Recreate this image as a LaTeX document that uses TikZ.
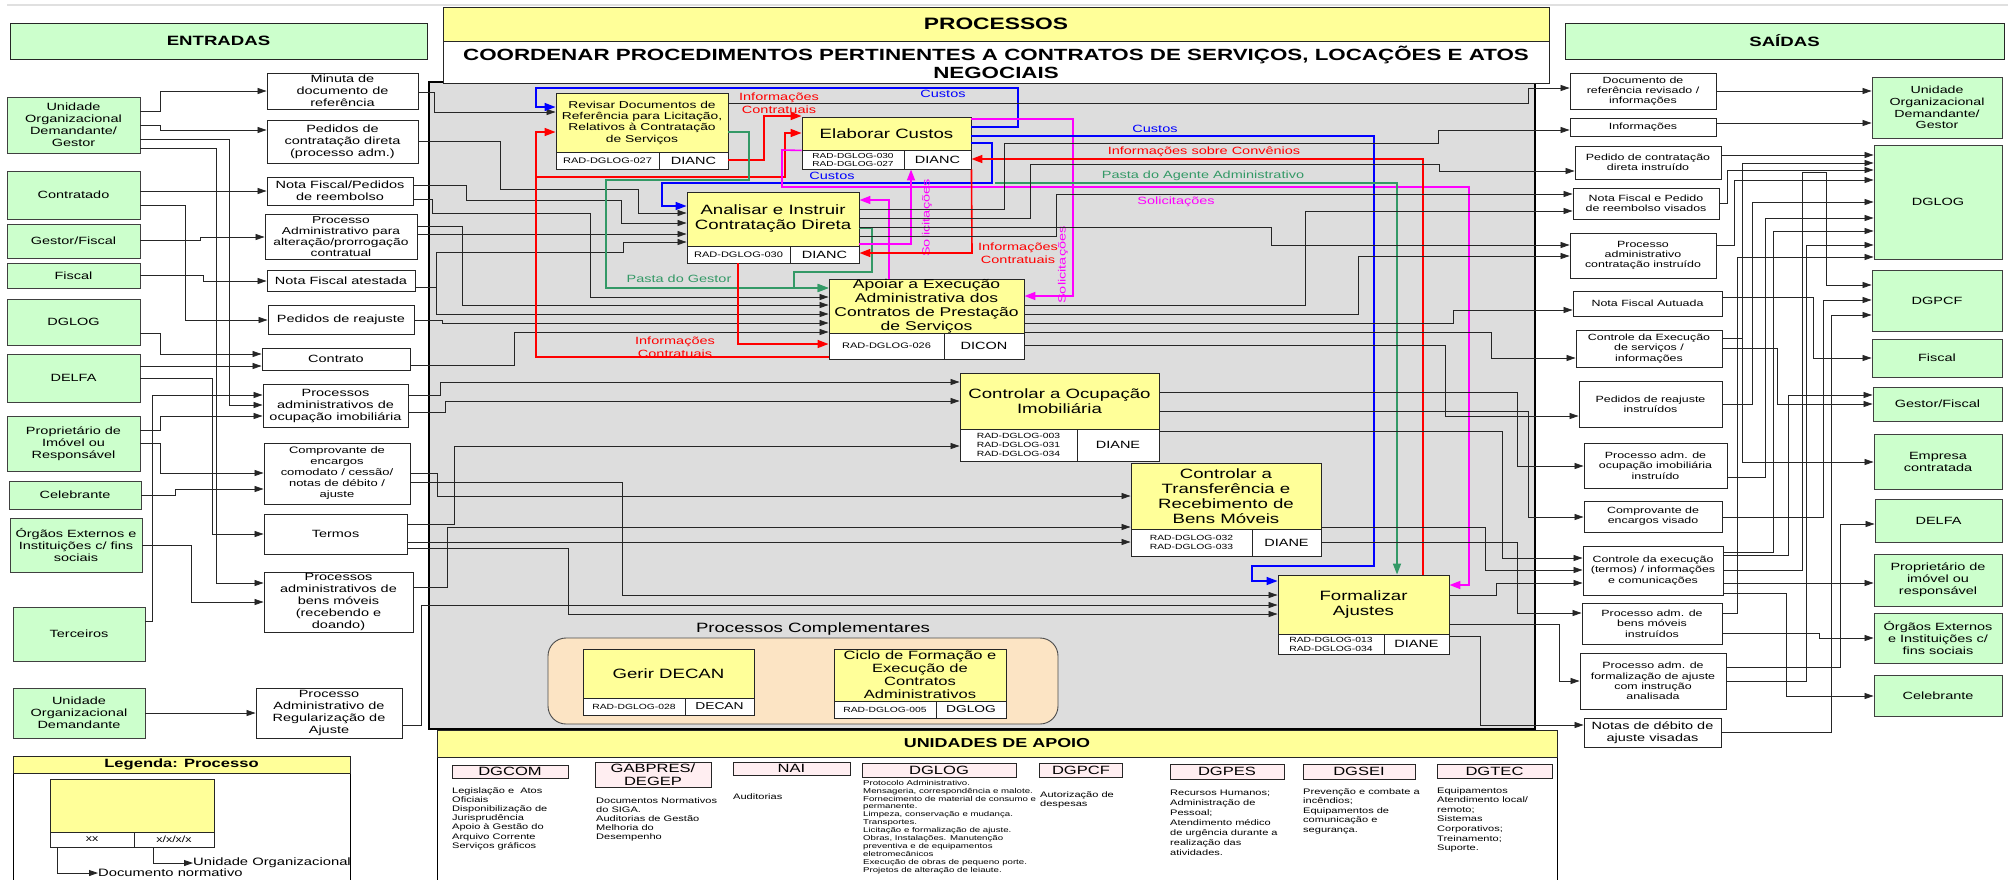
\documentclass[tikz,border=0pt]{standalone}
\usepackage{fontspec}
\setmainfont{Liberation Sans}[FakeStretch=1.38]
\usetikzlibrary{arrows.meta}

\definecolor{entgreen}{HTML}{CCFFCC}
\definecolor{procyellow}{HTML}{FFFF99}
\definecolor{areagray}{HTML}{DDDDDD}
\definecolor{complorange}{HTML}{FCE4C4}
\definecolor{apoiopink}{HTML}{FFEEF1}
\definecolor{fgreen}{HTML}{339966}
\definecolor{fred}{HTML}{FF0000}
\definecolor{fblue}{HTML}{0000FF}
\definecolor{fmag}{HTML}{FF00FF}

\tikzset{
  ent/.style={draw=black!75, fill=entgreen, line width=0.9pt, align=center, inner sep=0pt, font=\fontsize{10.5}{12}\selectfont},
  doc/.style={draw=black!85, fill=white, line width=0.9pt, align=center, inner sep=0pt, font=\fontsize{10.5}{12}\selectfont},
  odoc/.style={doc, font=\fontsize{9}{10.3}\selectfont},
  proc/.style={draw=black!85, fill=procyellow, line width=0.9pt, align=center, inner sep=0pt, font=\fontsize{13.5}{15}\selectfont},
  code/.style={draw=black!85, fill=white, line width=0.9pt, align=center, inner sep=0pt, font=\fontsize{8}{9}\selectfont},
  unitc/.style={code, font=\fontsize{10.5}{12}\selectfont},
  con/.style={draw=black!85, line width=0.8pt, -{Triangle[length=9pt,width=6pt]}},
  fcon/.style={line width=1.6pt, -{Triangle[length=11pt,width=8pt]}},
  lbl/.style={font=\fontsize{10.5}{12.5}\selectfont, inner sep=0pt, align=center},
  head/.style={draw=black!85, line width=0.9pt, inner sep=0pt, font=\fontsize{13.5}{15}\selectfont\bfseries},
  apoio/.style={draw=black!85, fill=apoiopink, line width=0.9pt, inner sep=0pt, align=center, font=\fontsize{12}{12.5}\selectfont},
  apoiotxt/.style={anchor=north west, align=left, inner sep=0pt, font=\fontsize{8}{9.2}\selectfont},
}

\begin{document}
\begin{tikzpicture}[x=1pt,y=-1pt]
\useasboundingbox (0,0) rectangle (2015,879);
\fill[white] (0,0) rectangle (2015,879);
\draw[black!12, line width=2pt] (7,5) -- (2008,5);

% headers
\node[head, fill=entgreen, minimum width=417pt, minimum height=36pt] (hEnt) at (218.5,41) {ENTRADAS};
\node[head, fill=entgreen, minimum width=439pt, minimum height=36pt] (hSai) at (1784.5,41) {SAÍDAS};

% process area
\fill[areagray] (429,82) rectangle (1535,729);
\draw[line width=1.5pt] (429,82) rectangle (1535,729);
\node[head, fill=procyellow, minimum width=1106pt, minimum height=34pt, font=\fontsize{16.5}{18}\selectfont\bfseries] (hProc) at (996,24) {PROCESSOS};
\node[head, fill=white, minimum width=1106pt, minimum height=42pt, align=center, font=\fontsize{16.2}{18}\selectfont\bfseries] (hTit) at (996,62) {COORDENAR PROCEDIMENTOS PERTINENTES A CONTRATOS DE SERVIÇOS, LOCAÇÕES E ATOS\\NEGOCIAIS};

% input entities
\node[ent, minimum width=133pt, minimum height=56pt] (eUod) at (73.5,125) {Unidade\\Organizacional\\Demandante/\\Gestor};
\node[ent, minimum width=133pt, minimum height=48pt] (eCont) at (73.5,195) {Contratado};
\node[ent, minimum width=133pt, minimum height=34pt] (eGF) at (73.5,241) {Gestor/Fiscal};
\node[ent, minimum width=133pt, minimum height=25pt] (eFis) at (73.5,275.5) {Fiscal};
\node[ent, minimum width=133pt, minimum height=46pt] (eDglog) at (73.5,322) {DGLOG};
\node[ent, minimum width=133pt, minimum height=48pt] (eDelfa) at (73.5,378) {DELFA};
\node[ent, minimum width=133pt, minimum height=55pt] (eProp) at (73.5,443.5) {Proprietário de\\Imóvel ou\\Responsável};
\node[ent, minimum width=132pt, minimum height=28pt] (eCeleb) at (75,495) {Celebrante};
\node[ent, minimum width=132pt, minimum height=54pt] (eOrg) at (76,545) {Órgãos Externos e\\Instituições c/ fins\\sociais};
\node[ent, minimum width=132pt, minimum height=54pt] (eTerc) at (79,634) {Terceiros};
\node[ent, minimum width=132pt, minimum height=50pt] (eUod2) at (79,713) {Unidade\\Organizacional\\Demandante};

% input documents
\node[doc, minimum width=151pt, minimum height=36pt] (dMin) at (342.5,91) {Minuta de\\documento de\\referência};
\node[doc, minimum width=151pt, minimum height=43pt] (dPed) at (342.5,141.5) {Pedidos de\\contratação direta\\(processo adm.)};
\node[doc, minimum width=146pt, minimum height=28pt] (dNfp) at (340,191) {Nota Fiscal/Pedidos\\de reembolso};
\node[doc, minimum width=152pt, minimum height=45pt, font=\fontsize{10}{11}\selectfont] (dAlt) at (341,236.5) {Processo\\Administrativo para\\alteração/prorrogação\\contratual};
\node[doc, minimum width=148pt, minimum height=21pt] (dNfa) at (341,280.5) {Nota Fiscal atestada};
\node[doc, minimum width=146pt, minimum height=29pt] (dReaj) at (341,319.5) {Pedidos de reajuste};
\node[doc, minimum width=148pt, minimum height=22pt] (dContr) at (336,359) {Contrato};
\node[doc, minimum width=145pt, minimum height=43pt] (dOcu) at (335.5,405.5) {Processos\\administrativos de\\ocupação imobiliária};
\node[doc, minimum width=146pt, minimum height=61pt, font=\fontsize{9.4}{11}\selectfont] (dComp) at (337,473.5) {Comprovante de\\encargos\\comodato / cessão/\\notas de débito /\\ajuste};
\node[doc, minimum width=143pt, minimum height=40pt] (dTerm) at (335.5,534) {Termos};
\node[doc, minimum width=149pt, minimum height=60pt] (dBens) at (338.5,602) {Processos\\administrativos de\\bens móveis\\(recebendo e\\doando)};
\node[doc, minimum width=146pt, minimum height=50pt] (dReg) at (329,713) {Processo\\Administrativo de\\Regularização de\\Ajuste};

% processes
\node[proc, minimum width=172pt, minimum height=59pt, font=\fontsize{10}{11.3}\selectfont] (rev) at (642,122.5) {Revisar Documentos de\\Referência para Licitação,\\Relativos à Contratação\\de Serviços};
\node[code, minimum width=103pt, minimum height=17pt] (revc) at (607.5,160.5) {RAD-DGLOG-027};
\node[unitc, minimum width=69pt, minimum height=17pt] (revu) at (693.5,160.5) {DIANC};

\node[proc, minimum width=169pt, minimum height=33pt] (ela) at (886.5,133.5) {Elaborar Custos};
\node[code, minimum width=102pt, minimum height=19pt, font=\fontsize{7.3}{8}\selectfont] (elac) at (853,159.5) {RAD-DGLOG-030\\RAD-DGLOG-027};
\node[unitc, minimum width=67pt, minimum height=19pt] (elau) at (937.5,159.5) {DIANC};

\node[proc, minimum width=172pt, minimum height=54pt] (ana) at (773,219) {Analisar e Instruir\\Contratação Direta};
\node[code, minimum width=103pt, minimum height=17pt] (anac) at (738.5,254.5) {RAD-DGLOG-030};
\node[unitc, minimum width=69pt, minimum height=17pt] (anau) at (824.5,254.5) {DIANC};

\node[proc, minimum width=195pt, minimum height=54pt, font=\fontsize{12.7}{14}\selectfont] (apo) at (926.5,306) {Apoiar a Execução\\Administrativa dos\\Contratos de Prestação\\de Serviços};
\node[code, minimum width=115pt, minimum height=26pt] (apoc) at (886.5,346) {RAD-DGLOG-026};
\node[unitc, minimum width=80pt, minimum height=26pt] (apou) at (984,346) {DICON};

\node[proc, minimum width=199pt, minimum height=56pt] (ocu) at (1059.5,401) {Controlar a Ocupação\\Imobiliária};
\node[code, minimum width=117pt, minimum height=32pt, font=\fontsize{7.5}{9}\selectfont] (ocuc) at (1018.5,445) {RAD-DGLOG-003\\RAD-DGLOG-031\\RAD-DGLOG-034};
\node[unitc, minimum width=82pt, minimum height=32pt] (ocuu) at (1118,445) {DIANE};

\node[proc, minimum width=190pt, minimum height=66pt] (tra) at (1226,496) {Controlar a\\Transferência e\\Recebimento de\\Bens Móveis};
\node[code, minimum width=121pt, minimum height=27pt, font=\fontsize{7.5}{9}\selectfont] (trac) at (1191.5,542.5) {RAD-DGLOG-032\\RAD-DGLOG-033};
\node[unitc, minimum width=69pt, minimum height=27pt] (trau) at (1286.5,542.5) {DIANE};

\node[proc, minimum width=171pt, minimum height=59pt] (for) at (1363.5,604.5) {Formalizar\\Ajustes};
\node[code, minimum width=106pt, minimum height=20pt, font=\fontsize{7.5}{9}\selectfont] (forc) at (1331,644) {RAD-DGLOG-013\\RAD-DGLOG-034};
\node[unitc, minimum width=65pt, minimum height=20pt] (foru) at (1416.5,644) {DIANE};

% complementary processes
\node[lbl, font=\fontsize{13.5}{15}\selectfont] (lCompl) at (813,629) {Processos Complementares};
\draw[rounded corners=18pt, fill=complorange, draw=black!70, line width=0.9pt] (548,638) rectangle (1058,724);
\node[proc, minimum width=171pt, minimum height=49pt] (dec) at (668.5,673.5) {Gerir DECAN};
\node[code, minimum width=102pt, minimum height=17pt, font=\fontsize{7.5}{9}\selectfont] (decc) at (634,706.5) {RAD-DGLOG-028};
\node[unitc, minimum width=69pt, minimum height=17pt, font=\fontsize{10}{11}\selectfont] (decu) at (719.5,706.5) {DECAN};
\node[proc, minimum width=172pt, minimum height=52pt, font=\fontsize{12}{13}\selectfont] (cic) at (920,675) {Ciclo de Formação e\\Execução de\\Contratos\\Administrativos};
\node[code, minimum width=102pt, minimum height=17pt, font=\fontsize{7.5}{9}\selectfont] (cicc) at (885,709.5) {RAD-DGLOG-005};
\node[unitc, minimum width=70pt, minimum height=17pt, font=\fontsize{10}{11}\selectfont] (cicu) at (971,709.5) {DGLOG};

% output documents
\node[odoc, minimum width=146pt, minimum height=36pt] (oRef) at (1643,91) {Documento de\\referência revisado /\\informações};
\node[odoc, minimum width=146pt, minimum height=18pt] (oInf) at (1643,127) {Informações};
\node[odoc, minimum width=146pt, minimum height=33pt] (oPed) at (1648,162.5) {Pedido de contratação\\direta instruído};
\node[odoc, minimum width=146pt, minimum height=31pt] (oNf) at (1646,203.5) {Nota Fiscal e Pedido\\de reembolso visados};
\node[odoc, minimum width=146pt, minimum height=45pt] (oProc) at (1643,255.5) {Processo\\administrativo\\contratação instruído};
\node[odoc, minimum width=149pt, minimum height=25pt] (oNfa) at (1647.5,303.5) {Nota Fiscal Autuada};
\node[odoc, minimum width=146pt, minimum height=37pt] (oCtl) at (1649,348.5) {Controle da Execução\\de serviços /\\informações};
\node[odoc, minimum width=143pt, minimum height=46pt] (oReaj) at (1650.5,404) {Pedidos de reajuste\\instruídos};
\node[odoc, minimum width=143pt, minimum height=45pt] (oOcu) at (1655.5,465.5) {Processo adm. de\\ocupação imobiliária\\instruído};
\node[odoc, minimum width=138pt, minimum height=31pt] (oComp) at (1653,516.5) {Comprovante de\\encargos visado};
\node[odoc, minimum width=140pt, minimum height=49pt] (oTerm) at (1653,570.5) {Controle da execução\\(termos) / informações\\e comunicações};
\node[odoc, minimum width=140pt, minimum height=41pt] (oBens) at (1652,623.5) {Processo adm. de\\bens móveis\\instruídos};
\node[odoc, minimum width=146pt, minimum height=56pt] (oForm) at (1653,681) {Processo adm. de\\formalização de ajuste\\com instrução\\analisada};
\node[doc, minimum width=137pt, minimum height=29pt] (oNot) at (1652.5,732.5) {Notas de débito de\\ajuste visadas};

% output entities
\node[ent, minimum width=130pt, minimum height=61pt, font=\fontsize{10.3}{11.8}\selectfont] (sUod) at (1937,107.5) {Unidade\\Organizacional\\Demandante/\\Gestor};
\node[ent, minimum width=128pt, minimum height=114pt] (sDglog) at (1938,202) {DGLOG};
\node[ent, minimum width=130pt, minimum height=61pt] (sDgpcf) at (1937,300.5) {DGPCF};
\node[ent, minimum width=130pt, minimum height=38pt] (sFis) at (1937,358) {Fiscal};
\node[ent, minimum width=129pt, minimum height=34pt] (sGF) at (1937.5,404) {Gestor/Fiscal};
\node[ent, minimum width=128pt, minimum height=55pt] (sEmp) at (1938,461.5) {Empresa\\contratada};
\node[ent, minimum width=127pt, minimum height=43pt] (sDelfa) at (1938.5,520.5) {DELFA};
\node[ent, minimum width=128pt, minimum height=52pt] (sProp) at (1938,580) {Proprietário de\\imóvel ou\\responsável};
\node[ent, minimum width=128pt, minimum height=50pt] (sOrg) at (1938,638) {Órgãos Externos\\e Instituições c/\\fins sociais};
\node[ent, minimum width=128pt, minimum height=41pt] (sCeleb) at (1938,695.5) {Celebrante};

% entities to input documents
\draw[con] (eUod.east |- 0,111) -- (160,111) -- (160,91) -- (dMin.west |- 0,91);
\draw[con] (eUod.east |- 0,125) -- (160,125) -- (160,130) -- (dPed.west |- 0,130);
\draw[con] (eUod.east |- 0,139) -- (229,139) -- (229,405) -- (dOcu.west |- 0,405);
\draw[con] (eUod.east |- 0,148) -- (216,148) -- (216,583) -- (dBens.west |- 0,583);
\draw[con] (eCont.east |- 0,191) -- (dNfp.west |- 0,191);
\draw[con] (eCont.east |- 0,205) -- (185,205) -- (185,320) -- (dReaj.west |- 0,320);
\draw[con] (eGF.east |- 0,240) -- (200,240) -- (200,237) -- (dAlt.west |- 0,237);
\draw[con] (eFis.east |- 0,275) -- (203,275) -- (203,281) -- (dNfa.west |- 0,281);
\draw[con] (eDglog.east |- 0,333) -- (160,333) -- (160,354) -- (dContr.west |- 0,354);
\draw[con] (eDelfa.east |- 0,366) -- (dContr.west |- 0,366);
\draw[con] (eDelfa.east |- 0,378) -- (212,378) -- (212,534) -- (dTerm.west |- 0,534);
\draw[con] (eTerc.east |- 0,621) -- (152,621) -- (152,395) -- (dOcu.west |- 0,395);
\draw[con] (eProp.east |- 0,430) -- (160,430) -- (160,416) -- (dOcu.west |- 0,416);
\draw[con] (eProp.east |- 0,443) -- (160,443) -- (160,473) -- (dComp.west |- 0,473);
\draw[con] (eCeleb.east |- 0,495) -- (175,495) -- (175,489) -- (dComp.west |- 0,489);
\draw[con] (eOrg.east |- 0,545) -- (191,545) -- (191,602) -- (dBens.west |- 0,602);
\draw[con] (eUod2) -- (dReg);

% input documents to processes
\draw[con] (dMin.east |- 0,92) -- (434,92) -- (434,112) -- (rev.west |- 0,112);
\draw[con] (dPed.east |- 0,141) -- (500,141) -- (500,189) -- (638,189) -- (638,213) -- (ana.west |- 0,213);
\draw[con] (dNfp.east |- 0,185) -- (466,185) -- (466,200) -- (621,200) -- (621,223) -- (ana.west |- 0,223);
\draw[con] (dAlt.east |- 0,234) -- (ana.west |- 0,234);
\draw[con] (dNfa.east |- 0,287) -- (436,287) -- (436,252) -- (623,252) -- (623,242) -- (ana.west |- 0,242);
\draw[con] (dNfp.east |- 0,199) -- (432,199) -- (432,213) -- (590,213) -- (590,297) -- (apo.west |- 0,297);
\draw[con] (dAlt.east |- 0,226) -- (462,226) -- (462,305) -- (apo.west |- 0,305);
\draw[con] (dNfa.east |- 0,287) -- (436,287) -- (436,314) -- (apo.west |- 0,314);
\draw[con] (dReaj.east |- 0,320) -- (442,320) -- (442,323) -- (apo.west |- 0,323);
\draw[con] (dContr.east |- 0,365) -- (514,365) -- (514,332) -- (apo.west |- 0,332);
\draw[con] (dOcu.east |- 0,395) -- (440,395) -- (440,382) -- (ocu.west |- 0,382);
\draw[con] (dOcu.east |- 0,412) -- (445,412) -- (445,401) -- (ocu.west |- 0,401);
\draw[con] (dTerm.east |- 0,524) -- (454,524) -- (454,446) -- (ocu.west |- 0,446);
\draw[con] (dComp.east |- 0,473) -- (437,473) -- (437,496) -- (tra.west |- 0,496);
\draw[con] (dComp.east |- 0,482) -- (622,482) -- (622,595) -- (for.west |- 0,595);
\draw[con] (dBens.east |- 0,587) -- (447,587) -- (447,527) -- (tra.west |- 0,527);
\draw[con] (dTerm.east |- 0,542) -- (trac.west |- 0,542);
\draw[con] (dTerm.east |- 0,548) -- (568,548) -- (568,614) -- (for.west |- 0,614);
\draw[con] (dReg.east |- 0,725) -- (421,725) -- (421,605) -- (for.west |- 0,605);

% flows between processes
\draw[fcon, fblue] (ela.east |- 0,127) -- (1018,127) -- (1018,88) -- (536,88) -- (536,107) -- (rev.west |- 0,107);
\node[lbl, text=fblue] (lCus1) at (943,94) {Custos};
\draw[fcon, fred] (apoc.west |- 0,357) -- (536,357) -- (536,132) -- (rev.west |- 0,132);
\draw[fcon, fred] (apoc.west |- 0,357) -- (536,357) -- (536,177) -- (785,177) -- (785,133) -- (ela.west |- 0,133);
\node[lbl, text=fred] (lInf3) at (675,347) {Informações\\Contratuais};
\draw[fcon, fred] (revu.east |- 0,160) -- (764,160) -- (764,116) -- (ela.west |- 0,116);
\node[lbl, text=fred] (lInf1) at (779,103) {Informações\\Contratuais};
\draw[fcon, fgreen] (rev.east |- 0,132) -- (749,132) -- (749,180) -- (606,180) -- (606,288) -- (apo.west |- 0,288);
\draw[fcon, fgreen] (ana.east |- 0,228) -- (872,228) -- (872,272) -- (794,272) -- (794,288) -- (apo.west |- 0,288);
\node[lbl, text=fgreen] (lPasta) at (679,279) {Pasta do Gestor};
\draw[fcon, fblue] (ela.east |- 0,143) -- (992,143) -- (992,183) -- (662,183) -- (662,206) -- (ana.west |- 0,206);
\node[lbl, text=fblue] (lCus2) at (832,176) {Custos};
\draw[fcon, fmag] (ela.south west) -- (782,150) -- (782,187) -- (1469,187) -- (1469,585) -- (for.east |- 0,585);
\node[lbl, text=fmag] (lSol1) at (1176,202) {Solicitações};
\draw[fcon, fmag] (ana.east |- 0,244) -- (911,244) -- (elau.south -| 911,0);
\node[lbl, text=fmag, rotate=90] (lSol2) at (927,218) {Solicitações};
\draw[fcon, fmag] (apo.north -| 889,0) -- (889,200) -- (ana.east |- 0,200);
\draw[fcon, fmag] (ela.east |- 0,119) -- (1073,119) -- (1073,296) -- (apo.east |- 0,296);
\node[lbl, text=fmag, rotate=90] (lSol3) at (1063,265) {Solicitações};
\draw[fcon, fred] (for.north -| 1423,0) -- (1423,159) -- (elau.east |- 0,159);
\node[lbl, text=fred] (lConv) at (1204,152) {Informações sobre Convênios};
\draw[fcon, fred] (elau.south east) -- (972,253) -- (anau.east |- 0,253);
\node[lbl, text=fred] (lInf2) at (1018,253) {Informações\\Contratuais};
\draw[fcon, fred] (anac.south -| 738,0) -- (738,344) -- (apoc.west |- 0,344);
\draw[fcon, fblue] (ela.east |- 0,136) -- (1374,136) -- (1374,566) -- (1252,566) -- (1252,581) -- (for.west |- 0,581);
\node[lbl, text=fblue] (lCus3) at (1155,129) {Custos};
\coordinate (pagA) at (995,183);
\draw[fcon, fgreen] (pagA) -- (1397,183) -- (for.north -| 1397,0);
\node[lbl, text=fgreen] (lAgente) at (1203,176) {Pasta do Agente Administrativo};

% processes to output documents
\draw[con] (rev.east |- 0,103) -- (1528,103) -- (1528,88) -- (oRef.west |- 0,88);
\draw[con] (ana.east |- 0,209) -- (1004,209) -- (1004,143) -- (1438,143) -- (1438,130) -- (oInf.west |- 0,130);
\draw[con] (ana.east |- 0,218) -- (1030,218) -- (1030,164) -- (1439,164) -- (1439,171) -- (oPed.west |- 0,171);
\draw[con] (ana.east |- 0,236) -- (1056,236) -- (1056,194) -- (oNf.west |- 0,194);
\draw[con] (ana.east |- 0,227) -- (1271,227) -- (1271,245) -- (oProc.west |- 0,245);
\draw[con] (apo.east |- 0,314) -- (1358,314) -- (1358,256) -- (oProc.west |- 0,256);
\draw[con] (apo.east |- 0,305) -- (1305,305) -- (1305,211) -- (oNf.west |- 0,211);
\draw[con] (apo.east |- 0,323) -- (1453,323) -- (1453,310) -- (oNfa.west |- 0,310);
\draw[con] (apo.east |- 0,332) -- (1491,332) -- (1491,358) -- (oCtl.west |- 0,358);
\draw[con] (apou.east |- 0,345) -- (1445,345) -- (1445,416) -- (oReaj.west |- 0,416);
\draw[con] (ocu.east |- 0,392) -- (1517,392) -- (1517,466) -- (oOcu.west |- 0,466);
\draw[con] (ocu.east |- 0,411) -- (1528,411) -- (1528,517) -- (oComp.west |- 0,517);
\draw[con] (ocuu.east |- 0,431) -- (1502,431) -- (1502,558) -- (oTerm.west |- 0,558);
\draw[con] (tra.east |- 0,527) -- (1485,527) -- (1485,570) -- (oTerm.west |- 0,570);
\draw[con] (trau.east |- 0,542) -- (1517,542) -- (1517,613) -- (oBens.west |- 0,613);
\draw[con] (for.east |- 0,595) -- (1496,595) -- (1496,583) -- (oTerm.west |- 0,583);
\draw[con] (for.east |- 0,624) -- (1559,624) -- (1559,681) -- (oForm.west |- 0,681);
\draw[con] (foru.east |- 0,636) -- (1480,636) -- (1480,725) -- (oNot.west |- 0,725);

% output documents to entities
\draw[con] (oRef.east |- 0,91) -- (sUod.west |- 0,91);
\draw[con] (oInf.east |- 0,123) -- (sUod.west |- 0,123);
\draw[con] (oPed.east |- 0,155) -- (sDglog.west |- 0,155);
\draw[con] (oNf.east |- 0,203) -- (1727,203) -- (1727,170) -- (sDglog.west |- 0,170);
\draw[con] (oProc.east |- 0,245) -- (1734,245) -- (1734,180) -- (sDglog.west |- 0,180);
\draw[con] (oCtl.east |- 0,338) -- (1742,338) -- (1742,163) -- (sDglog.west |- 0,163);
\draw[con] (oCtl.east |- 0,338) -- (1742,338) -- (1742,462) -- (sEmp.west |- 0,462);
\draw[con] (oReaj.east |- 0,404) -- (1752,404) -- (1752,202) -- (sDglog.west |- 0,202);
\draw[con] (oOcu.east |- 0,477) -- (1765,477) -- (1765,218) -- (sDglog.west |- 0,218);
\draw[con] (oTerm.east |- 0,552) -- (1773,552) -- (1773,231) -- (sDglog.west |- 0,231);
\draw[con] (oForm.east |- 0,681) -- (1806,681) -- (1806,245) -- (sDglog.west |- 0,245);
\draw[con] (oBens.east |- 0,613) -- (1737,613) -- (1737,257) -- (sDglog.west |- 0,257);
\draw[con] (oNfa.east |- 0,297) -- (1813,297) -- (1813,358) -- (sFis.west |- 0,358);
\draw[con] (oComp.east |- 0,517) -- (1823,517) -- (1823,300) -- (sDgpcf.west |- 0,300);
\draw[con] (oNot.east |- 0,732) -- (1831,732) -- (1831,315) -- (sDgpcf.west |- 0,315);
\draw[con] (oTerm.east |- 0,570) -- (1802,570) -- (1802,172) -- (1826,172) -- (1826,285) -- (sDgpcf.west |- 0,285);
\draw[con] (oCtl.east |- 0,348) -- (1777,348) -- (1777,404) -- (sGF.west |- 0,404);
\draw[con] (oTerm.east |- 0,555) -- (1788,555) -- (1788,395) -- (sGF.west |- 0,395);
\draw[con] (oForm.east |- 0,667) -- (1840,667) -- (1840,524) -- (sDelfa.west |- 0,524);
\draw[con] (oTerm.east |- 0,583) -- (sProp.west |- 0,583);
\draw[con] (oBens.east |- 0,633) -- (1819,633) -- (1819,638) -- (sOrg.west |- 0,638);
\draw[con] (oTerm.east |- 0,593) -- (1786,593) -- (1786,696) -- (sCeleb.west |- 0,696);

% support units
\draw[fill=white, line width=0.9pt] (437,730) rectangle (1557,895);
\node[head, fill=procyellow, minimum width=1120pt, minimum height=27pt, font=\fontsize{13}{15}\selectfont\bfseries] (hApoio) at (997,743.5) {UNIDADES DE APOIO};
\node[apoio, minimum width=116pt, minimum height=13pt] (uDgcom) at (510,771.5) {DGCOM};
\node[apoio, minimum width=116pt, minimum height=25pt] (uGab) at (653,774.5) {GABPRES/\\DEGEP};
\node[apoio, minimum width=117pt, minimum height=13pt] (uNai) at (791.5,768.5) {NAI};
\node[apoio, minimum width=154pt, minimum height=14pt] (uDglog) at (939,770) {DGLOG};
\node[apoio, minimum width=83pt, minimum height=14pt] (uDgpcf) at (1081,770) {DGPCF};
\node[apoio, minimum width=114pt, minimum height=15pt] (uDgpes) at (1227,771.5) {DGPES};
\node[apoio, minimum width=112pt, minimum height=15pt] (uDgsei) at (1359,771.5) {DGSEI};
\node[apoio, minimum width=115pt, minimum height=14pt] (uDgtec) at (1494.5,771) {DGTEC};
\node[apoiotxt] (tDgcom) at (452,787) {Legislação e\ \ Atos\\Oficiais\\Disponibilização de\\Jurisprudência\\Apoio à Gestão do\\Arquivo Corrente\\Serviços gráficos};
\node[apoiotxt] (tGab) at (596,797) {Documentos Normativos\\do SIGA.\\Auditorias de Gestão\\Melhoria do\\Desempenho};
\node[apoiotxt] (tNai) at (733,793) {Auditorias};
\node[apoiotxt, font=\fontsize{7}{7.9}\selectfont] (tDglog) at (863,780) {Protocolo Administrativo.\\Mensageria, correspondência e malote.\\Fornecimento de material de consumo e\\permanente.\\Limpeza, conservação e mudança.\\Transportes.\\Licitação e formalização de ajuste.\\Obras, Instalações. Manutenção\\preventiva e de equipamentos\\eletromecânicos\\Execução de obras de pequeno porte.\\Projetos de alteração de leiaute.};
\node[apoiotxt] (tDgpcf) at (1040,791) {Autorização de\\despesas};
\node[apoiotxt, font=\fontsize{8}{10}\selectfont] (tDgpes) at (1170,790) {Recursos Humanos;\\Administração de\\Pessoal;\\Atendimento médico\\de urgência durante a\\realização das\\atividades.};
\node[apoiotxt, font=\fontsize{8}{9.6}\selectfont] (tDgsei) at (1303,788) {Prevenção e combate a\\incêndios;\\Equipamentos de\\comunicação e\\segurança.};
\node[apoiotxt, font=\fontsize{8}{9.6}\selectfont] (tDgtec) at (1437,787) {Equipamentos\\Atendimento local/\\remoto;\\Sistemas\\Corporativos;\\Treinamento;\\Suporte.};

% legend
\draw[line width=0.9pt] (13,756) rectangle (350,895);
\node[head, fill=procyellow, minimum width=337pt, minimum height=17pt, font=\fontsize{12}{13}\selectfont\bfseries] (lgHead) at (181.5,764.5) {Legenda: Processo};
\node[proc, minimum width=164pt, minimum height=53pt] (lgBox) at (132,805.5) {};
\node[code, minimum width=84pt, minimum height=15pt, font=\fontsize{9}{10}\selectfont] (lgc) at (92,839.5) {xx};
\node[code, minimum width=80pt, minimum height=15pt, font=\fontsize{9}{10}\selectfont] (lgu) at (174,839.5) {x/x/x/x};
\node[lbl, anchor=west, font=\fontsize{10.7}{12}\selectfont] (lgUni) at (193,863) {Unidade Organizacional};
\node[lbl, anchor=west, font=\fontsize{10.7}{12}\selectfont] (lgDoc) at (98,873) {Documento normativo};
\draw[con] (lgc.south -| 57,0) |- (lgDoc.west);
\draw[con] (lgu.south -| 153,0) |- (lgUni.west);
\end{tikzpicture}
\end{document}
